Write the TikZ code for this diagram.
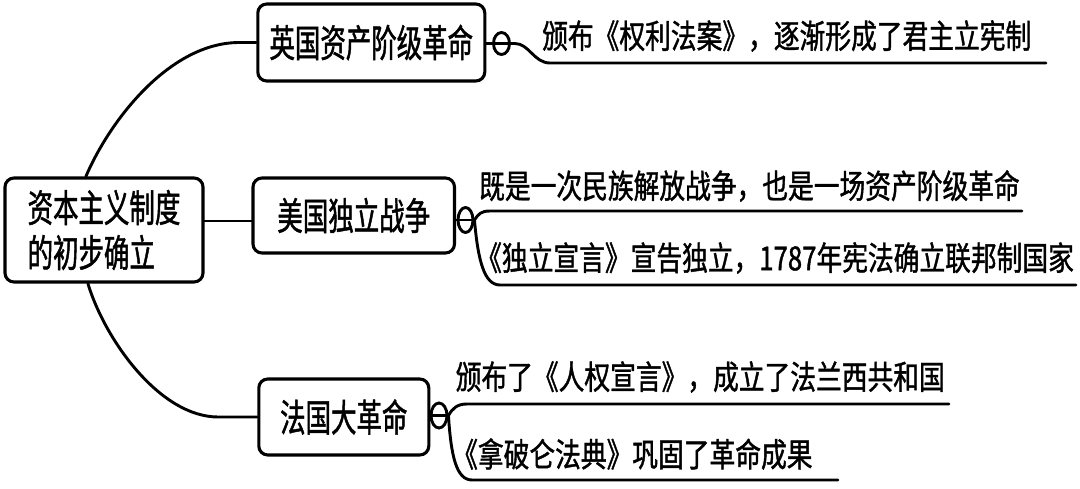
\documentclass[tikz,border=0pt]{standalone}
\usepackage{fontspec}
\newfontfamily\cjkA[FakeStretch=0.67,FakeBold=1.2]{Noto Sans CJK SC}
\newfontfamily\cjkB[FakeStretch=0.78,FakeBold=1.2]{Noto Sans CJK SC}
\usetikzlibrary{shapes.geometric,calc}
\tikzset{
  conn/.style={line width=2.9pt, line cap=round},
  mainbox/.style={draw, line width=3.1pt, rounded corners=9pt, inner sep=0pt,
    font=\cjkA\fontsize{38}{45}\selectfont},
  leaf/.style={inner sep=0pt, anchor=west, font=\cjkB\fontsize{33}{40}\selectfont},
  marker/.style={draw, ellipse, line width=2.9pt, inner sep=0pt,
    minimum width=16pt, minimum height=23pt},
}
\begin{document}
\begin{tikzpicture}[x=1pt,y=-1pt]
\fill[white] (0,0) rectangle (1080,488);
\useasboundingbox (0,0) rectangle (1080,488);

% main nodes
\node[mainbox, minimum width=198pt, minimum height=104pt, align=left] (root) at (104,230) {资本主义制度\\的初步确立};
\node[mainbox, minimum width=227pt, minimum height=77pt] (eng) at (371.3,42.5) {英国资产阶级革命};
\node[mainbox, minimum width=201.5pt, minimum height=75pt] (usa) at (353.75,215.5) {美国独立战争};
\node[mainbox, minimum width=170pt, minimum height=76pt] (fra) at (343.8,417) {法国大革命};

% collapse markers
\node[marker, minimum height=22pt] (m1) at (501.5,43.5) {};
\node[marker, minimum width=15pt, minimum height=25pt] (m2) at (465.5,220) {};
\node[marker, minimum height=25pt] (m3) at (439,415.5) {};

% leaf texts
\node[leaf] (t1) at (542,36) {颁布《权利法案》，逐渐形成了君主立宪制};
\node[leaf] (t2) at (479,186) {既是一次民族解放战争，也是一场资产阶级革命};
\node[leaf] (t3) at (476,258) {《独立宣言》宣告独立，1787年宪法确立联邦制国家};
\node[leaf] (t4) at (455.5,377) {颁布了《人权宣言》，成立了法兰西共和国};
\node[leaf] (t5) at (452,454) {《拿破仑法典》巩固了革命成果};

% underline coordinates
\coordinate (u1s) at (550,63);   \coordinate (u1e) at (1046,63);
\coordinate (u2s) at (490,211);  \coordinate (u2e) at (1022,211);
\coordinate (u3s) at (500,285);  \coordinate (u3e) at (1076,285);
\coordinate (u4s) at (467,404);  \coordinate (u4e) at (949,404);
\coordinate (u5s) at (472,480);  \coordinate (u5e) at (838,480);

% root connectors
\draw[conn] ($(root.north west)!0.41!(root.north east)$) .. controls (110,120) and (170,42.5) .. ($(eng.west)+(-17,0)$) -- (eng.west);
\coordinate (uw) at ($(usa.west)+(0,5.5)$);
\draw[conn] (uw) -- (uw -| root.east);
\draw[conn] ($(root.south west)!0.42!(root.south east)$) .. controls (105,340) and (160,417) .. ($(fra.west)+(-39,0)$) -- (fra.west);

% branch to leaves
\draw[conn] (eng.east |- m1.center) -- (m1.east) -- ++(4,0) .. controls +(14,0) and +(-16,0) .. (u1s) -- (u1e);

\draw[conn] (usa.east |- m2.center) -- (m2.east);
\draw[conn] (m2.east) .. controls +(4,-6) and +(-9,0) .. (u2s) -- (u2e);
\draw[conn] (m2.east) .. controls (478,260) and (484,285) .. (u3s) -- (u3e);

\draw[conn] (fra.east |- m3.center) -- (m3.east);
\draw[conn] (m3.east) .. controls +(4,-7) and +(-10,0) .. (u4s) -- (u4e);
\draw[conn] (m3.east) .. controls (451,455) and (456,480) .. (u5s) -- (u5e);
\end{tikzpicture}
\end{document}
